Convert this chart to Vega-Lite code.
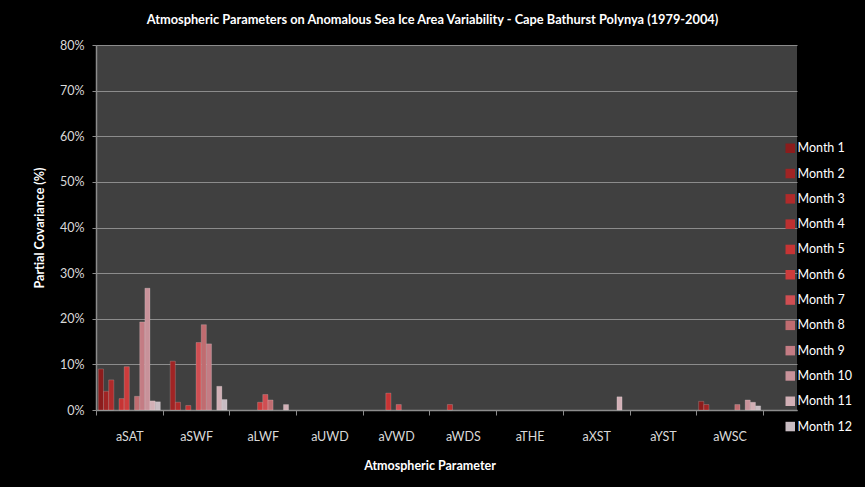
{
  "$schema": "https://vega.github.io/schema/vega-lite/v6.json",
  "width": 701,
  "height": 365,
  "autosize": {"type": "none"},
  "padding": {"left": 96, "top": 45, "right": 68, "bottom": 77},
  "background": "#000000",
  "title": {
    "text": "Atmospheric Parameters on Anomalous  Sea Ice Area Variability  - Cape  Bathurst  Polynya (1979-2004)",
    "font": "Lato",
    "fontSize": 12.8,
    "fontWeight": "bold",
    "color": "#ffffff",
    "anchor": "middle",
    "dx": -14,
    "offset": 12
  },
  "data": {
    "values": [
      {"parameter": "aSAT", "month": "Month 1", "value": 9.0},
      {"parameter": "aSAT", "month": "Month 2", "value": 4.1},
      {"parameter": "aSAT", "month": "Month 3", "value": 6.6},
      {"parameter": "aSAT", "month": "Month 5", "value": 2.5},
      {"parameter": "aSAT", "month": "Month 6", "value": 9.5},
      {"parameter": "aSAT", "month": "Month 8", "value": 3.0},
      {"parameter": "aSAT", "month": "Month 9", "value": 19.3},
      {"parameter": "aSAT", "month": "Month 10", "value": 26.7},
      {"parameter": "aSAT", "month": "Month 11", "value": 2.0},
      {"parameter": "aSAT", "month": "Month 12", "value": 1.8},
      {"parameter": "aSWF", "month": "Month 2", "value": 10.7},
      {"parameter": "aSWF", "month": "Month 3", "value": 1.7},
      {"parameter": "aSWF", "month": "Month 5", "value": 1.0},
      {"parameter": "aSWF", "month": "Month 7", "value": 14.8},
      {"parameter": "aSWF", "month": "Month 8", "value": 18.7},
      {"parameter": "aSWF", "month": "Month 9", "value": 14.5},
      {"parameter": "aSWF", "month": "Month 11", "value": 5.2},
      {"parameter": "aSWF", "month": "Month 12", "value": 2.3},
      {"parameter": "aLWF", "month": "Month 6", "value": 1.7},
      {"parameter": "aLWF", "month": "Month 7", "value": 3.4},
      {"parameter": "aLWF", "month": "Month 8", "value": 2.2},
      {"parameter": "aLWF", "month": "Month 11", "value": 1.2},
      {"parameter": "aVWD", "month": "Month 5", "value": 3.7},
      {"parameter": "aVWD", "month": "Month 7", "value": 1.2},
      {"parameter": "aWDS", "month": "Month 4", "value": 1.2},
      {"parameter": "aXST", "month": "Month 11", "value": 2.9},
      {"parameter": "aWSC", "month": "Month 1", "value": 1.9},
      {"parameter": "aWSC", "month": "Month 2", "value": 1.2},
      {"parameter": "aWSC", "month": "Month 8", "value": 1.2},
      {"parameter": "aWSC", "month": "Month 10", "value": 2.2},
      {"parameter": "aWSC", "month": "Month 11", "value": 1.7},
      {"parameter": "aWSC", "month": "Month 12", "value": 0.9}
    ]
  },
  "mark": {"type": "bar", "stroke": "#ffffff", "strokeOpacity": 0.3, "strokeWidth": 0.6},
  "encoding": {
    "x": {
      "field": "parameter",
      "type": "nominal",
      "scale": {
        "domain": ["aSAT", "aSWF", "aLWF", "aUWD", "aVWD", "aWDS", "aTHE", "aXST", "aYST", "aWSC"],
        "paddingInner": 0,
        "paddingOuter": 0.255,
        "align": 0
      },
      "axis": {
        "title": "Atmospheric Parameter",
        "titleFont": "Lato",
        "titleFontSize": 12.5,
        "titleFontWeight": "bold",
        "titleColor": "#ffffff",
        "titlePadding": 17,
        "titleX": 333.5,
        "titleAlign": "center",
        "labelAngle": 0,
        "labelFont": "Lato",
        "labelFontSize": 12.5,
        "labelColor": "#d9d9d9",
        "labelPadding": 15,
        "tickBand": "extent",
        "tickSize": 5,
        "tickColor": "#8c8c8c",
        "domainColor": "#8c8c8c",
        "domainWidth": 1.5
      }
    },
    "xOffset": {
      "field": "month",
      "type": "nominal",
      "scale": {
        "domain": ["Month 1", "Month 2", "Month 3", "Month 4", "Month 5", "Month 6", "Month 7", "Month 8", "Month 9", "Month 10", "Month 11", "Month 12"],
        "paddingInner": 0,
        "paddingOuter": 0.45
      }
    },
    "y": {
      "field": "value",
      "type": "quantitative",
      "scale": {"domain": [0, 80]},
      "axis": {
        "title": "Partial Covariance  (%)",
        "titleFont": "Lato",
        "titleFontSize": 12.5,
        "titleFontWeight": "bold",
        "titleColor": "#ffffff",
        "titlePadding": 13,
        "values": [0, 10, 20, 30, 40, 50, 60, 70, 80],
        "labelExpr": "datum.value + '%'",
        "labelFont": "Lato",
        "labelFontSize": 12.5,
        "labelColor": "#d9d9d9",
        "labelPadding": 8,
        "tickSize": 4,
        "tickColor": "#8c8c8c",
        "domainColor": "#8c8c8c",
        "domainWidth": 1.5,
        "grid": true,
        "gridColor": "#8c8c8c",
        "gridWidth": 1
      }
    },
    "color": {
      "field": "month",
      "type": "nominal",
      "scale": {
        "domain": ["Month 1", "Month 2", "Month 3", "Month 4", "Month 5", "Month 6", "Month 7", "Month 8", "Month 9", "Month 10", "Month 11", "Month 12"],
        "range": ["#8c1c1c", "#a02424", "#b02a2a", "#bd3030", "#c63434", "#cc3c3c", "#d04e52", "#c06c70", "#c47c84", "#c8929a", "#d2b0b6", "#c8bcc2"]
      },
      "legend": {
        "title": null,
        "orient": "none",
        "legendX": 688,
        "legendY": 97,
        "symbolType": "square",
        "symbolSize": 90,
        "symbolOpacity": 1,
        "symbolStrokeWidth": 0,
        "labelFont": "Lato",
        "labelFontSize": 12.5,
        "labelColor": "#ffffff",
        "labelOffset": 1,
        "rowPadding": 12.3
      }
    }
  },
  "config": {
    "view": {"fill": "#404040", "stroke": null}
  }
}
